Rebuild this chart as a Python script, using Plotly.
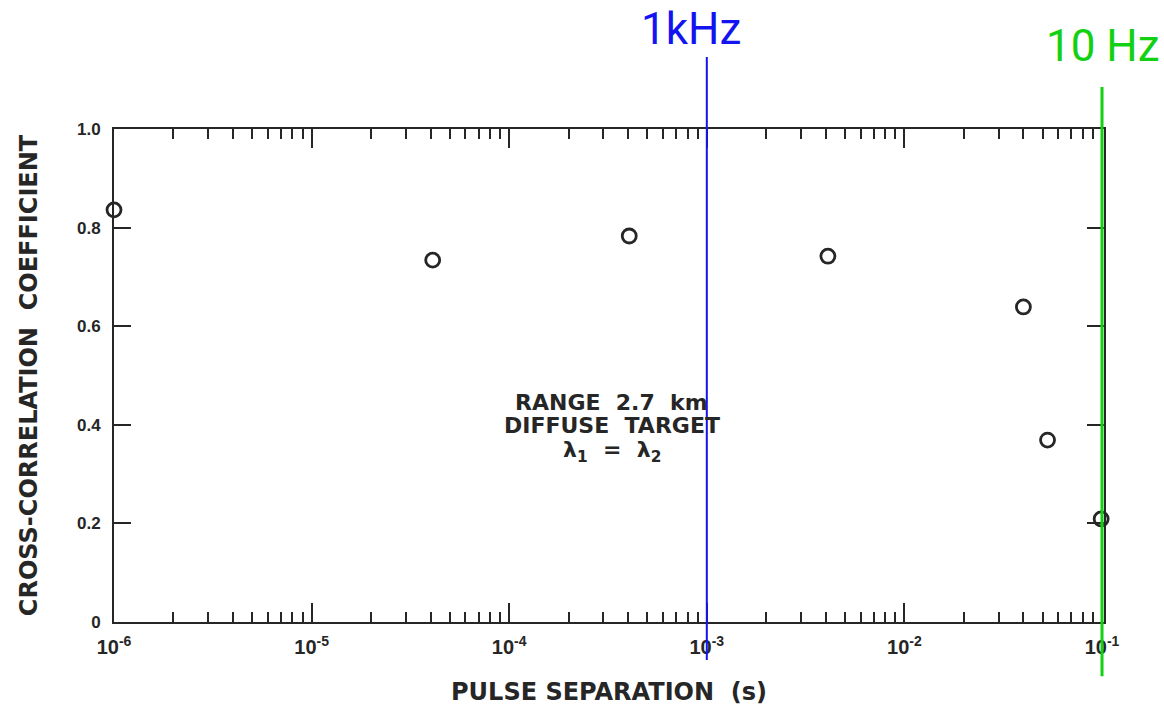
import math
import plotly.graph_objects as go

# ---- data ----
pulse_separation_s = [1.0e-6, 4.1e-5, 4.05e-4, 4.1e-3, 4.0e-2, 5.3e-2, 9.9e-2]
cross_corr_coeff = [0.836, 0.734, 0.783, 0.742, 0.639, 0.369, 0.209]

x_tick_vals = [1e-6, 1e-5, 1e-4, 1e-3, 1e-2, 1e-1]
x_tick_text = ["10<sup>-6</sup>", "10<sup>-5</sup>", "10<sup>-4</sup>",
               "10<sup>-3</sup>", "10<sup>-2</sup>", "10<sup>-1</sup>"]
y_tick_vals = [0, 0.2, 0.4, 0.6, 0.8, 1.0]
y_tick_text = ["0", "0.2", "0.4", "0.6", "0.8", "1.0"]

marker_lines = [  # (position in s, label, colour)
    (1e-3, "1kHz", "#1414f0"),
    (1e-1, "10 Hz", "#12d012"),
]

note_lines = ["RANGE  2.7  km", "DIFFUSE  TARGET", "λ<sub>1</sub>  =  λ<sub>2</sub>"]

INK = "#262626"
minor_vals = [k * 10.0 ** e for e in range(-6, -1) for k in range(2, 10)]

fig = go.Figure()
fig.add_trace(go.Scatter(
    x=pulse_separation_s, y=cross_corr_coeff, mode="markers",
    marker=dict(symbol="circle-open", size=14, color=INK, line=dict(width=2.8, color=INK)),
    cliponaxis=False, showlegend=False,
))

axis_common = dict(
    showline=True, linecolor=INK, linewidth=2, mirror="allticks",
    ticks="inside", tickcolor=INK, showgrid=False, zeroline=False, automargin=False,
)

fig.update_layout(
    width=1164, height=707,
    margin=dict(l=114, r=60, t=129, b=85),
    paper_bgcolor="white", plot_bgcolor="white",
    xaxis=dict(
        type="log", range=[-6, -0.99], tickmode="array",
        tickvals=x_tick_vals, ticktext=["<b>" + t + "</b>" for t in x_tick_text],
        ticklen=19, tickwidth=2, ticklabelstandoff=6,
        tickfont=dict(family="Liberation Sans", size=20, color=INK),
        minor=dict(tickmode="array", tickvals=minor_vals, ticks="inside",
                   ticklen=10, tickwidth=1.5, tickcolor=INK, showgrid=False),
        title=dict(text="<b>PULSE SEPARATION  (s)</b>", standoff=26,
                   font=dict(family="DejaVu Sans", size=24, color=INK)),
        **axis_common,
    ),
    yaxis=dict(
        range=[0, 1], tickmode="array", tickvals=y_tick_vals,
        ticktext=["<b>" + t + "</b>" for t in y_tick_text],
        ticklen=17, tickwidth=1.5, ticklabelstandoff=8,
        tickfont=dict(family="Liberation Sans", size=17, color=INK),
        title=dict(text="<b>CROSS-CORRELATION  COEFFICIENT</b>", standoff=33,
                   font=dict(family="DejaVu Sans", size=24, color=INK)),
        **axis_common,
    ),
)

# vertical marker lines and their labels
line_spans = {"1kHz": (-0.077, 1.146, 2, -16, 1.203), "10 Hz": (-0.11, 1.085, 3, 1, 1.168)}
for xpos, label, colour in marker_lines:
    y0, y1, w, xshift, ylab = line_spans[label]
    fig.add_shape(type="line", xref="x", yref="paper", x0=xpos, x1=xpos, y0=y0, y1=y1,
                  line=dict(color=colour, width=w), layer="above")
    fig.add_annotation(x=math.log10(xpos), xref="x", y=ylab, yref="paper",
                       text=label, showarrow=False, xshift=xshift, borderpad=0,
                       xanchor="center", yanchor="middle",
                       font=dict(family="Roboto", size=44, color=colour))

for text, ypos in zip(note_lines, [0.446, 0.398, 0.346]):
    fig.add_annotation(
        x=0.503, xref="paper", y=ypos, yref="paper",
        text="<b>" + text + "</b>", showarrow=False, borderpad=0,
        xanchor="center", yanchor="middle",
        font=dict(family="DejaVu Sans", size=22, color=INK),
    )

fig.write_html("out.html")
